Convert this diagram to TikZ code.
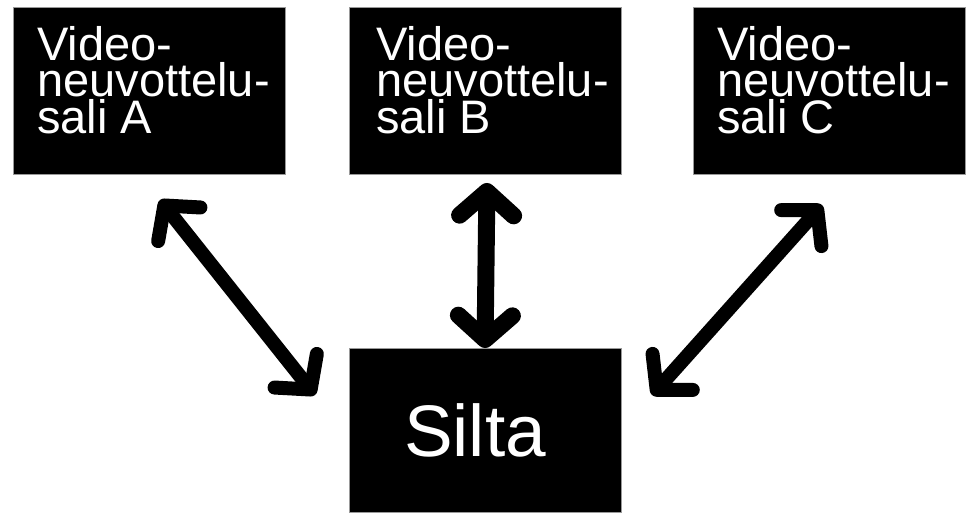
\documentclass[tikz,border=0pt]{standalone}
\usepackage{fontspec}
\setmainfont{Liberation Sans}
\usetikzlibrary{arrows.meta}
\begin{document}
\begin{tikzpicture}[x=1pt,y=-1pt,
  room/.style={draw=black!40, line width=0.8pt, fill=black, minimum width=272pt, minimum height=167pt, inner sep=0pt, anchor=north west},
  roomtext/.style={text=white, anchor=north west, inner sep=0pt, align=left, font=\fontsize{47}{36.5}\selectfont},
  bigtext/.style={text=white, anchor=center, inner sep=0pt, font=\fontsize{73}{80}\selectfont},
  barb/.tip={Straight Barb[length=24pt,width=54pt,round]},
  link/.style={line width=14pt, line cap=round, barb-barb}
]
\useasboundingbox[fill=white] (0,0) rectangle (967,512);
% rooms
\node[room] (roomA) at (13,7) {};
\node[room] (roomB) at (349,7) {};
\node[room] (roomC) at (693,7) {};
\node[room, minimum height=164pt] (bridge) at (349,348) {};
% texts
\node[roomtext] (textA) at (37,26) {Video-\\neuvottelu-\\sali A};
\node[roomtext] (textB) at (376,26) {Video-\\neuvottelu-\\sali B};
\node[roomtext] (textC) at (717,26) {Video-\\neuvottelu-\\sali C};
\node[bigtext] (textS) at (475,430) {Silta};
% arrow ends
\coordinate (a1) at (160,200);
\coordinate (a2) at (315,395);
\coordinate (b1) at (487,183);
\coordinate (b2) at (485,348);
\coordinate (c1) at (822,205);
\coordinate (c2) at (652,395);
\draw[link] (a1) -- (a2);
\draw[link, line width=17pt] (b1) -- (b2);
\draw[link] (c1) -- (c2);
\end{tikzpicture}
\end{document}
